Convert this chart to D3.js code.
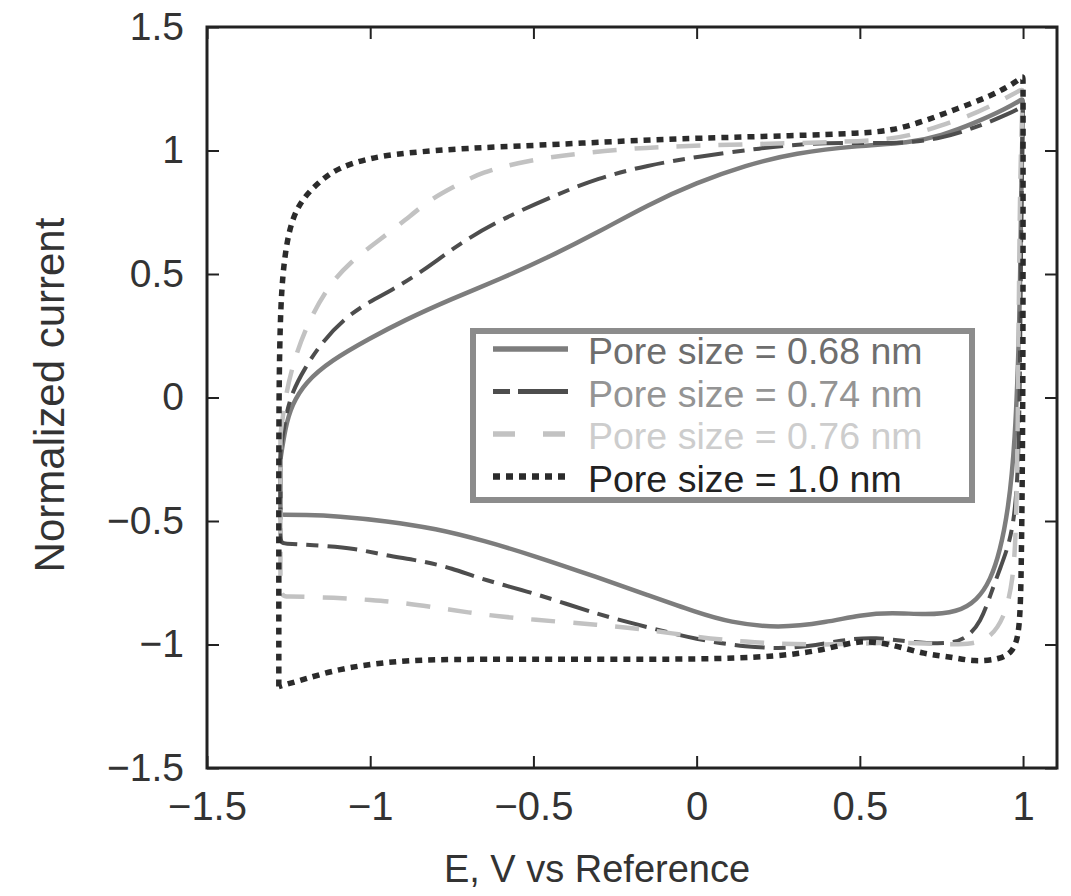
<!DOCTYPE html>
<html>
<head>
<meta charset="utf-8">
<script src="https://cdn.jsdelivr.net/npm/d3@7"></script>
<style>
  body { margin: 0; background: #fff; }
  text { font-family: "Liberation Sans", Arial, sans-serif; }
</style>
</head>
<body>
<div id="cv-chart"></div>
<script>
// tick values
var xTicks = [-1.5, -1, -0.5, 0, 0.5, 1];
var yTicks = [-1.5, -1, -0.5, 0, 0.5, 1, 1.5];

// legend labels
var labels = ["Pore size = 0.68 nm", "Pore size = 0.74 nm", "Pore size = 0.76 nm", "Pore size = 1.0 nm"];

// CV loops, [E, normalized current]
var pore068 = [[-1.275,-0.25],[-1.26,-0.12],[-1.24,-0.03],[-1.2,0.06],[-1.12,0.15],[-1.0,0.24],[-0.9,0.31],
  [-0.75,0.4],[-0.6,0.48],[-0.45,0.57],[-0.3,0.67],[-0.15,0.78],[0,0.87],[0.15,0.94],[0.3,0.99],[0.5,1.02],
  [0.65,1.03],[0.75,1.06],[0.85,1.11],[0.95,1.17],[1.0,1.21],[1.0,1.21],
  [0.995,0.9],[0.99,0.3],[0.975,-0.2],[0.955,-0.45],[0.93,-0.62],[0.9,-0.74],[0.86,-0.82],[0.8,-0.87],
  [0.7,-0.88],[0.6,-0.87],[0.5,-0.88],[0.4,-0.91],[0.25,-0.935],[0.1,-0.91],[0,-0.87],[-0.15,-0.8],
  [-0.3,-0.73],[-0.5,-0.64],[-0.65,-0.58],[-0.8,-0.53],[-0.95,-0.5],[-1.1,-0.48],[-1.2,-0.475],
  [-1.275,-0.475],[-1.275,-0.475],[-1.275,-0.25]];

var pore074 = [[-1.275,-0.22],[-1.26,-0.08],[-1.24,0.02],[-1.2,0.12],[-1.15,0.22],[-1.08,0.32],[-1.0,0.39],
  [-0.94,0.43],[-0.84,0.51],[-0.72,0.63],[-0.6,0.72],[-0.45,0.81],[-0.3,0.89],[-0.15,0.94],[0,0.975],
  [0.2,1.01],[0.35,1.03],[0.5,1.03],[0.65,1.03],[0.75,1.05],[0.85,1.09],[0.96,1.15],[1.0,1.18],[1.0,1.18],
  [0.995,0.8],[0.99,0.0],[0.985,-0.3],[0.97,-0.55],[0.93,-0.69],[0.9,-0.8],[0.87,-0.91],[0.83,-0.97],
  [0.78,-1.0],[0.65,-0.99],[0.55,-0.97],[0.45,-0.98],[0.3,-1.02],[0.15,-1.01],[0,-0.98],[-0.15,-0.93],
  [-0.3,-0.88],[-0.5,-0.79],[-0.65,-0.74],[-0.75,-0.69],[-0.85,-0.66],[-0.95,-0.64],[-1.05,-0.61],
  [-1.15,-0.6],[-1.275,-0.59],[-1.275,-0.59],[-1.275,-0.22]];

var pore076 = [[-1.275,-0.15],[-1.26,0.0],[-1.24,0.12],[-1.2,0.28],[-1.13,0.45],[-1.06,0.55],[-0.98,0.63],
  [-0.89,0.72],[-0.82,0.8],[-0.72,0.87],[-0.66,0.91],[-0.55,0.95],[-0.42,0.98],[-0.2,1.01],[0,1.02],
  [0.3,1.03],[0.6,1.04],[0.7,1.08],[0.84,1.14],[0.93,1.2],[1.0,1.25],[1.0,1.25],
  [0.99,0.9],[0.985,0.0],[0.98,-0.5],[0.97,-0.75],[0.94,-0.9],[0.9,-0.97],[0.85,-1.0],[0.75,-1.0],
  [0.6,-0.99],[0.45,-1.0],[0.3,-1.0],[0.15,-0.99],[0,-0.97],[-0.15,-0.94],[-0.3,-0.92],[-0.5,-0.9],
  [-0.65,-0.88],[-0.75,-0.86],[-0.9,-0.83],[-1.0,-0.82],[-1.1,-0.81],[-1.275,-0.805],[-1.275,-0.805],
  [-1.275,-0.15]];

var pore100 = [[-1.28,-1.17],[-1.28,-0.5],[-1.28,0.0],[-1.275,0.4],[-1.26,0.6],[-1.24,0.72],[-1.21,0.8],
  [-1.16,0.87],[-1.1,0.93],[-1.0,0.97],[-0.9,0.99],[-0.7,1.01],[-0.5,1.02],[-0.2,1.04],[0,1.05],
  [0.3,1.06],[0.5,1.07],[0.6,1.08],[0.7,1.12],[0.8,1.17],[0.9,1.22],[0.97,1.27],[1.0,1.3],[1.0,1.3],
  [1.0,1.0],[1.0,0.0],[0.995,-0.7],[0.99,-0.95],[0.97,-1.03],[0.93,-1.06],[0.85,-1.07],[0.78,-1.05],
  [0.7,-1.04],[0.6,-1.0],[0.5,-0.98],[0.4,-1.02],[0.25,-1.05],[0,-1.06],[-0.3,-1.06],[-0.6,-1.06],
  [-0.8,-1.06],[-0.95,-1.07],[-1.1,-1.1],[-1.2,-1.14],[-1.28,-1.17]];

var series = [
  {data: pore068, color: "#7d7d7d", width: 4.5, dash: null,         text: "#6e6e6e"},
  {data: pore074, color: "#4d4d4d", width: 4,   dash: "30,9,12,9",  text: "#949494"},
  {data: pore076, color: "#c2c2c2", width: 4.5, dash: "24,18",      text: "#cdcdcd"},
  {data: pore100, color: "#2b2b2b", width: 5.5, dash: "7,6",        text: "#222"}
];

var width = 1071, height = 896;
var frame = {left: 207, right: 1057, top: 27, bottom: 768};

var x = d3.scaleLinear().domain([-1.5, 1.104]).range([frame.left, frame.right]);
var y = d3.scaleLinear().domain([-1.5, 1.5]).range([frame.bottom, frame.top]);

var fmt = function(d) { return (d < 0 ? "\u2212" : "") + Math.abs(d); };

var svg = d3.select("#cv-chart").append("svg")
    .attr("width", width)
    .attr("height", height);

// curves
var line = d3.line()
    .x(function(d) { return x(d[0]); })
    .y(function(d) { return y(d[1]); })
    .curve(d3.curveBasis);

svg.selectAll(".cv")
    .data(series)
  .enter().append("path")
    .attr("class", "cv")
    .attr("d", function(d) { return line(d.data); })
    .attr("fill", "none")
    .attr("stroke", function(d) { return d.color; })
    .attr("stroke-width", function(d) { return d.width; })
    .attr("stroke-dasharray", function(d) { return d.dash; })
    .attr("stroke-linejoin", "round");

// axes, ticks pointing inward
var xAxis = svg.append("g")
    .attr("transform", "translate(0," + frame.bottom + ")")
    .call(d3.axisBottom(x).tickValues(xTicks).tickFormat(fmt).tickSize(-12).tickPadding(24));
var yAxis = svg.append("g")
    .attr("transform", "translate(" + frame.left + ",0)")
    .call(d3.axisLeft(y).tickValues(yTicks).tickFormat(fmt).tickSize(-12).tickPadding(23));
svg.append("g")
    .attr("transform", "translate(0," + frame.top + ")")
    .call(d3.axisTop(x).tickValues(xTicks).tickFormat("").tickSize(-12));
svg.append("g")
    .attr("transform", "translate(" + frame.right + ",0)")
    .call(d3.axisRight(y).tickValues(yTicks).tickFormat("").tickSize(-12));

svg.selectAll(".domain").remove();
svg.selectAll(".tick line").attr("stroke", "#222").attr("stroke-width", 2);
xAxis.selectAll("text").style("font-size", "40px").style("fill", "#333");
yAxis.selectAll("text").style("font-size", "39px").style("fill", "#333");

svg.append("rect")
    .attr("x", frame.left).attr("y", frame.top)
    .attr("width", frame.right - frame.left)
    .attr("height", frame.bottom - frame.top)
    .attr("fill", "none")
    .attr("stroke", "#222")
    .attr("stroke-width", 3);

// axis titles
svg.append("text")
    .attr("x", 597).attr("y", 882)
    .style("text-anchor", "middle")
    .style("font-size", "38px")
    .style("fill", "#333")
    .text("E, V vs Reference");

svg.append("text")
    .attr("transform", "translate(64,395) rotate(-90)")
    .style("text-anchor", "middle")
    .style("font-size", "42px")
    .style("fill", "#333")
    .text("Normalized current");

// legend
var legend = svg.append("g");
legend.append("rect")
    .attr("x", 473).attr("y", 331)
    .attr("width", 499).attr("height", 169)
    .attr("fill", "#fff")
    .attr("stroke", "#8c8c8c")
    .attr("stroke-width", 6);

var rows = legend.selectAll(".row")
    .data(series)
  .enter().append("g")
    .attr("class", "row")
    .attr("transform", function(d, i) { return "translate(0," + (349 + i * 42.5) + ")"; });

rows.append("line")
    .attr("x1", 493).attr("x2", 568)
    .attr("stroke", function(d) { return d.color; })
    .attr("stroke-width", function(d) { return d.width + 1; })
    .attr("stroke-dasharray", function(d, i) { return i === 1 ? "17,8,50,0" : i === 2 ? "22,28" : d.dash; });

rows.append("text")
    .attr("x", 588).attr("y", 15)
    .style("font-size", "37.5px")
    .style("fill", function(d) { return d.text; })
    .text(function(d, i) { return labels[i]; });
</script>
</body>
</html>
